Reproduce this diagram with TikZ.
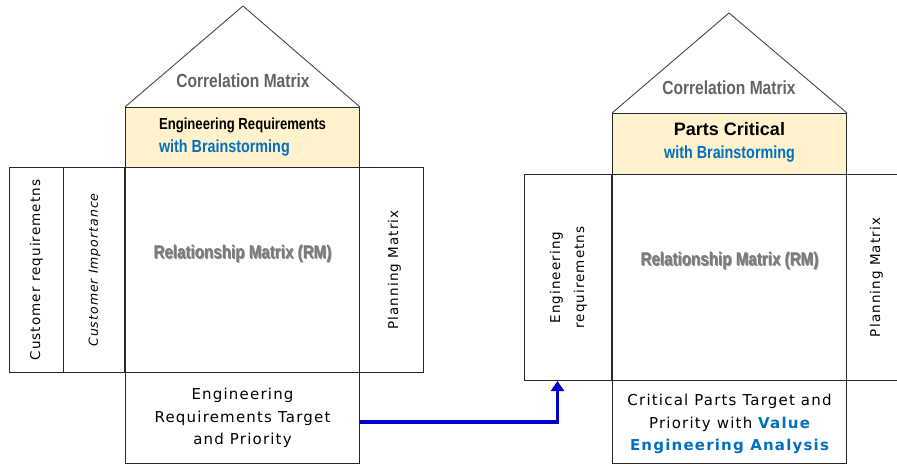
\documentclass[tikz,border=0pt]{standalone}
\usepackage{fontspec}
\usepackage{xcolor}
\setmainfont{DejaVu Sans}
\newfontfamily\narrowfont[FakeStretch=0.82]{Liberation Sans}
\newfontfamily\arialfont{Liberation Sans}
\newfontfamily\bodyfont[LetterSpace=8]{DejaVu Sans}
\usetikzlibrary{positioning,arrows.meta}
\definecolor{boxline}{RGB}{40,40,40}
\definecolor{roofline}{RGB}{70,70,70}
\definecolor{titlegray}{RGB}{100,100,100}
\definecolor{headfill}{RGB}{255,242,204}
\definecolor{brainblue}{RGB}{0,112,192}
\definecolor{flowblue}{RGB}{0,0,200}
\newcommand\corrfont{\narrowfont\bfseries\fontsize{19}{22}\selectfont}
\newcommand\headfont{\narrowfont\bfseries\fontsize{16}{23}\selectfont}
\newcommand\brainfont{\narrowfont\bfseries\fontsize{17.5}{23}\selectfont}
\newcommand\rmfont{\narrowfont\bfseries\fontsize{18.5}{22}\selectfont}
\newcommand\sidefont{\bodyfont\fontsize{13.5}{24}\selectfont}
\newcommand\targetfont{\bodyfont\fontsize{15}{22.5}\selectfont}

\begin{document}
\begin{tikzpicture}[x=1pt,y=-1pt,
  cell/.style={draw=boxline, line width=1pt, anchor=north west, inner sep=0pt},
  headcell/.style={cell, fill=headfill},
  roof/.style={draw=roofline, line width=0.9pt},
  corrtext/.style={font=\corrfont, text=titlegray},
  headtext/.style={font=\headfont, inner sep=0pt},
  rmtext/.style={font=\rmfont, text=titlegray!85},
  rmshadow/.style={font=\rmfont, text=black!45},
  sidetext/.style={rotate=90, font=\sidefont, align=center, inner sep=0pt},
  targettext/.style={font=\targetfont, align=center, inner sep=0pt},
  flow/.style={draw=flowblue, line width=3.5pt, -{Triangle[width=13pt,length=10pt]}}]
  \useasboundingbox (0,0) rectangle (897,464);

  % left house
  \node[headcell, minimum width=234, minimum height=60] (headL) at (125,107) {};
  \coordinate (apexL) at (243,6);
  \draw[roof] (headL.north west) -- (apexL) -- (headL.north east);
  \node[cell, minimum width=54, minimum height=205] (custreqL) at (9,167) {};
  \node[cell, minimum width=62, minimum height=205] (custimpL) at (63,167) {};
  \node[cell, minimum width=234, minimum height=205] (relL) at (125,167) {};
  \node[cell, minimum width=64, minimum height=205] (planL) at (359,167) {};
  \node[cell, minimum width=234, minimum height=91] (targetL) at (125,372) {};
  \draw[boxline, line width=2pt] (relL.north west) -- (relL.south west);

  \node[corrtext] (corrL) at (243,81) {Correlation Matrix};
  \node[headtext, align=left] (headtxtL) at (headL.center)
    {Engineering Requirements\\{\brainfont\color{brainblue}with Brainstorming}};
  \node[rmshadow] (rmshL) at ([xshift=1pt,yshift=15pt]relL.center) {Relationship Matrix (RM)};
  \node[rmtext] (rmL) at ([yshift=16pt]relL.center) {Relationship Matrix (RM)};
  \node[sidetext] (custreqtxt) at (custreqL.center) {Customer requiremetns};
  \node[sidetext, font=\sidefont\itshape\fontsize{12.5}{24}\selectfont] (custimptxt)
    at (custimpL.center) {Customer Importance};
  \node[sidetext] (plantxtL) at ([xshift=3pt]planL.center) {Planning Matrix};
  \node[targettext] (targettxtL) at (targetL.center)
    {Engineering\\Requirements Target\\and Priority};

  % right house
  \node[headcell, minimum width=234, minimum height=61] (headR) at (612,113) {};
  \coordinate (apexR) at (729,13);
  \draw[roof] (headR.north west) -- (apexR) -- (headR.north east);
  \node[cell, minimum width=88, minimum height=206] (engreqR) at (524,174) {};
  \node[cell, minimum width=234, minimum height=206] (relR) at (612,174) {};
  \node[cell, minimum width=60, minimum height=206] (planR) at (846,174) {};
  \node[cell, minimum width=234, minimum height=83] (targetR) at (612,380) {};
  \draw[boxline, line width=2pt] (relR.north west) -- (relR.south west);

  \node[corrtext] (corrR) at (729,88) {Correlation Matrix};
  \node[headtext, align=center] (headtxtR) at ([yshift=2pt]headR.center)
    {{\arialfont\bfseries\fontsize{18}{23}\selectfont Parts Critical}\\{\brainfont\color{brainblue}with Brainstorming}};
  \node[rmshadow] (rmshR) at ([xshift=1pt,yshift=16pt]relR.center) {Relationship Matrix (RM)};
  \node[rmtext] (rmR) at ([yshift=17pt]relR.center) {Relationship Matrix (RM)};
  \node[sidetext] (engreqtxt) at (engreqR.center) {Engineering\\requiremetns};
  \node[sidetext] (plantxtR) at (planR.center) {Planning Matrix};
  \node[targettext] (targettxtR) at ([yshift=-2pt]targetR.center)
    {Critical Parts Target and\\Priority with {\color{brainblue}\bfseries Value}\\{\color{brainblue}\bfseries Engineering Analysis}};

  % target of the left house feeds the right one
  \draw[flow] ([yshift=-4pt]targetL.east) -| ([xshift=-11pt]engreqR.south);
\end{tikzpicture}
\end{document}
